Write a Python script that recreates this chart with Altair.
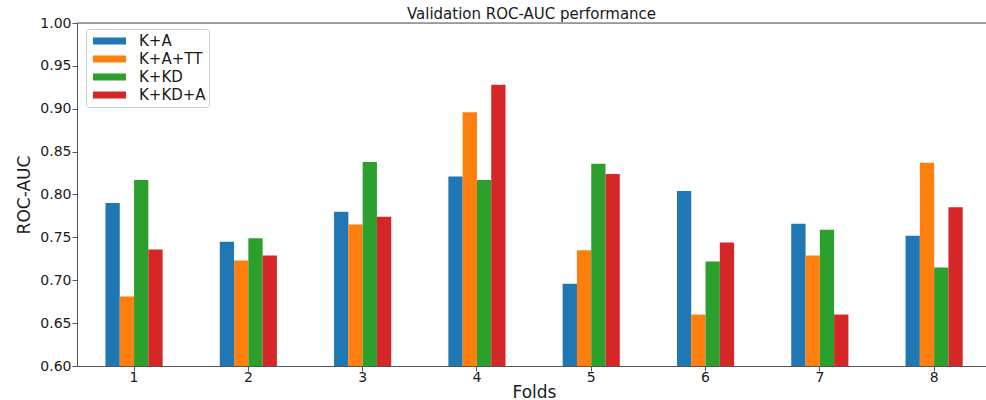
import altair as alt
import pandas as pd

# Validation ROC-AUC per fold for each model variant
folds = ["1", "2", "3", "4", "5", "6", "7", "8"]
series_names = ["K+A", "K+A+TT", "K+KD", "K+KD+A"]
series_colors = ["#1f77b4", "#ff7f0e", "#2ca02c", "#d62728"]

k_a = [0.790, 0.745, 0.780, 0.821, 0.696, 0.804, 0.766, 0.752]
k_a_tt = [0.681, 0.723, 0.765, 0.896, 0.735, 0.660, 0.729, 0.837]
k_kd = [0.817, 0.749, 0.838, 0.817, 0.836, 0.722, 0.759, 0.715]
k_kd_a = [0.736, 0.729, 0.774, 0.928, 0.824, 0.744, 0.660, 0.785]

y_ticks = [0.60, 0.65, 0.70, 0.75, 0.80, 0.85, 0.90, 0.95, 1.00]
y_min, y_max = 0.60, 1.00

rows = []
for name, values in zip(series_names, [k_a, k_a_tt, k_kd, k_kd_a]):
    for fold, v in zip(folds, values):
        rows.append({"Fold": fold, "Model": name, "AUC": v})
df = pd.DataFrame(rows)

FONT = "DejaVu Sans"
SPINE = "#555555"

bars = alt.Chart(df).mark_bar(clip=True).encode(
    x=alt.X(
        "Fold:N",
        sort=folds,
        scale=alt.Scale(paddingInner=0.5, paddingOuter=0.2265, align=0.55),
        axis=alt.Axis(
            title="Folds",
            labelAngle=0,
            labelFont=FONT,
            labelFontSize=14,
            labelColor="#1a1a1a",
            labelPadding=-1,
            tickSize=5,
            tickColor=SPINE,
            domainColor=SPINE,
            titleFont=FONT,
            titleFontSize=17,
            titleFontWeight="normal",
            titleColor="#1a1a1a",
            titleBaseline="alphabetic",
            titleX=457,
            titleY=31,
        ),
    ),
    xOffset=alt.XOffset(
        "Model:N",
        sort=series_names,
        scale=alt.Scale(paddingInner=0, paddingOuter=0),
    ),
    y=alt.Y(
        "AUC:Q",
        scale=alt.Scale(domain=[y_min, y_max], zero=False, nice=False),
        axis=alt.Axis(
            title="ROC-AUC",
            values=y_ticks,
            format=".2f",
            grid=False,
            labelFont=FONT,
            labelFontSize=14,
            labelColor="#1a1a1a",
            labelPadding=1,
            tickSize=5,
            tickColor=SPINE,
            domainColor=SPINE,
            titleFont=FONT,
            titleFontSize=17,
            titleFontWeight="normal",
            titleColor="#1a1a1a",
            titleAngle=270,
            titleAlign="center",
            titleBaseline="alphabetic",
            titleX=-48,
            titleY=171.5,
        ),
    ),
    y2=alt.Y2(datum=y_min),
    color=alt.Color(
        "Model:N",
        sort=series_names,
        scale=alt.Scale(domain=series_names, range=series_colors),
        legend=alt.Legend(
            title=None,
            orient="none",
            legendX=9,
            legendY=6,
            padding=3,
            clipHeight=18,
            rowPadding=0,
            symbolType="M-0.556,-0.389H3.111V0.389H-0.556Z",
            symbolSize=324,
            symbolStrokeWidth=0,
            symbolOpacity=1,
            labelOffset=32,
            labelFont=FONT,
            labelFontSize=15,
            labelColor="#1a1a1a",
            fillColor="white",
            strokeColor="#cccccc",
            cornerRadius=3,
        ),
    ),
)

# upper frame line at the top of the value range
top_line = alt.Chart(pd.DataFrame({"top": [y_max]})).mark_rule(
    color=SPINE, strokeWidth=1
).encode(y=alt.Y("top:Q"))

chart = (
    alt.layer(bars, top_line)
    .properties(
        width=909,
        height=343,
        title=alt.TitleParams(
            "Validation ROC-AUC performance",
            font=FONT,
            fontSize=15,
            fontWeight="normal",
            color="#1a1a1a",
            anchor="middle",
            frame="group",
            baseline="alphabetic",
            offset=0,
            dy=18,
        ),
        autosize=alt.AutoSizeParams(type="none"),
        padding={"left": 77, "top": 23, "right": 0, "bottom": 34},
    )
    .configure_view(stroke=None)
    .configure(background="white")
)

chart.save("out.html", embed_options={"renderer": "svg", "actions": False})
